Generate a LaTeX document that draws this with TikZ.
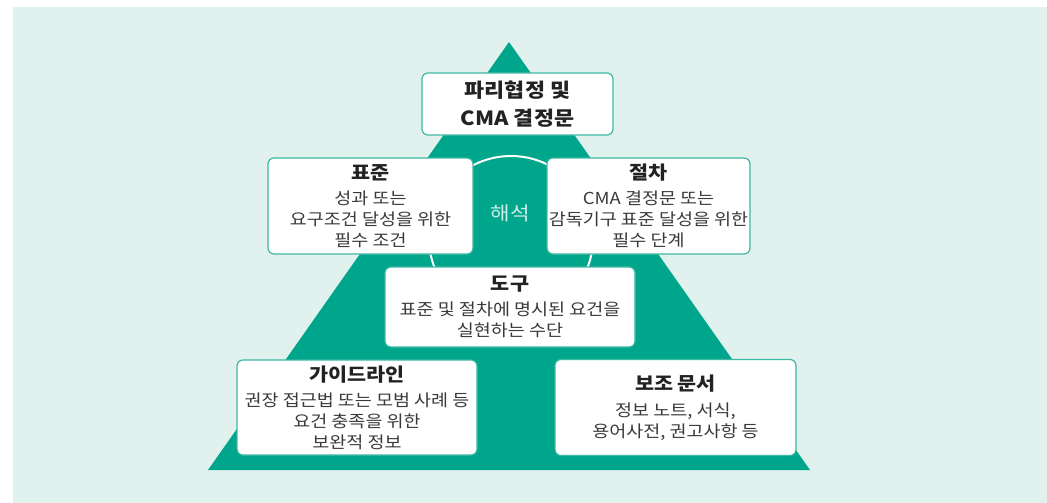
\documentclass[tikz,border=0pt]{standalone}
\usepackage{fontspec}
\setmainfont{Noto Sans CJK KR}[FakeStretch=1.12]
\definecolor{bgmint}{HTML}{E1F1EE}
\definecolor{teal}{HTML}{00A68C}
\definecolor{boxedge}{HTML}{3DB8A3}
\definecolor{txt}{HTML}{3A3A3A}
\definecolor{ttl}{HTML}{222222}
\definecolor{interp}{HTML}{CFEDE6}
\begin{document}
\begin{tikzpicture}[x=1pt,y=-1pt,
  box/.style={draw=boxedge, line width=1.2pt, rounded corners=6pt, fill=white,
    inner sep=0pt, align=center, text=txt,
    font=\fontsize{16.5}{21}\selectfont},
]
\newcommand{\ttlx}[1]{{\fontsize{18.5}{21}\selectfont\bfseries\color{ttl}#1}}
\path[use as bounding box, fill=white] (0,0) rectangle (1047,503);
\fill[bgmint] (13,7) rectangle (1047,503);
% pyramid
\coordinate (apex) at (509,42);
\coordinate (bl) at (208,470);
\coordinate (br) at (810,470);
\fill[teal] (apex) -- (bl) -- (br) -- cycle;
% interpretation circle
\coordinate (cc) at (511,238);
\draw[white, line width=2pt] (cc) circle[radius=82];
\node[text=interp, font=\fontsize{19}{22}\selectfont] (interp) at (510,213) {해석};
% boxes
\node[box, minimum width=191pt, minimum height=62pt, text=ttl,
  font=\fontsize{19.5}{28}\selectfont\bfseries] (top) at (517.5,104)
  {파리협정 및\\CMA 결정문};
\node[box, minimum width=205pt, minimum height=96pt] (std) at (370.5,206)
  {\ttlx{표준}\\[4pt]성과 또는\\요구조건 달성을 위한\\필수 조건};
\node[box, minimum width=203pt, minimum height=96pt] (proc) at (648.5,206)
  {\ttlx{절차}\\[4pt]CMA 결정문 또는\\감독기구 표준 달성을 위한\\필수 단계};
\node[box, minimum width=250pt, minimum height=80pt] (tool) at (510,307)
  {\ttlx{도구}\\[4pt]표준 및 절차에 명시된 요건을\\실현하는 수단};
\node[box, minimum width=240pt, minimum height=95pt] (guide) at (357,407.5)
  {\ttlx{가이드라인}\\[4pt]권장 접근법 또는 모범 사례 등\\요건 충족을 위한\\보완적 정보};
\node[box, minimum width=241pt, minimum height=96pt] (supp) at (675.5,407.5)
  {\ttlx{보조 문서}\\[5pt]정보 노트, 서식,\\용어사전, 권고사항 등};
\end{tikzpicture}
\end{document}
